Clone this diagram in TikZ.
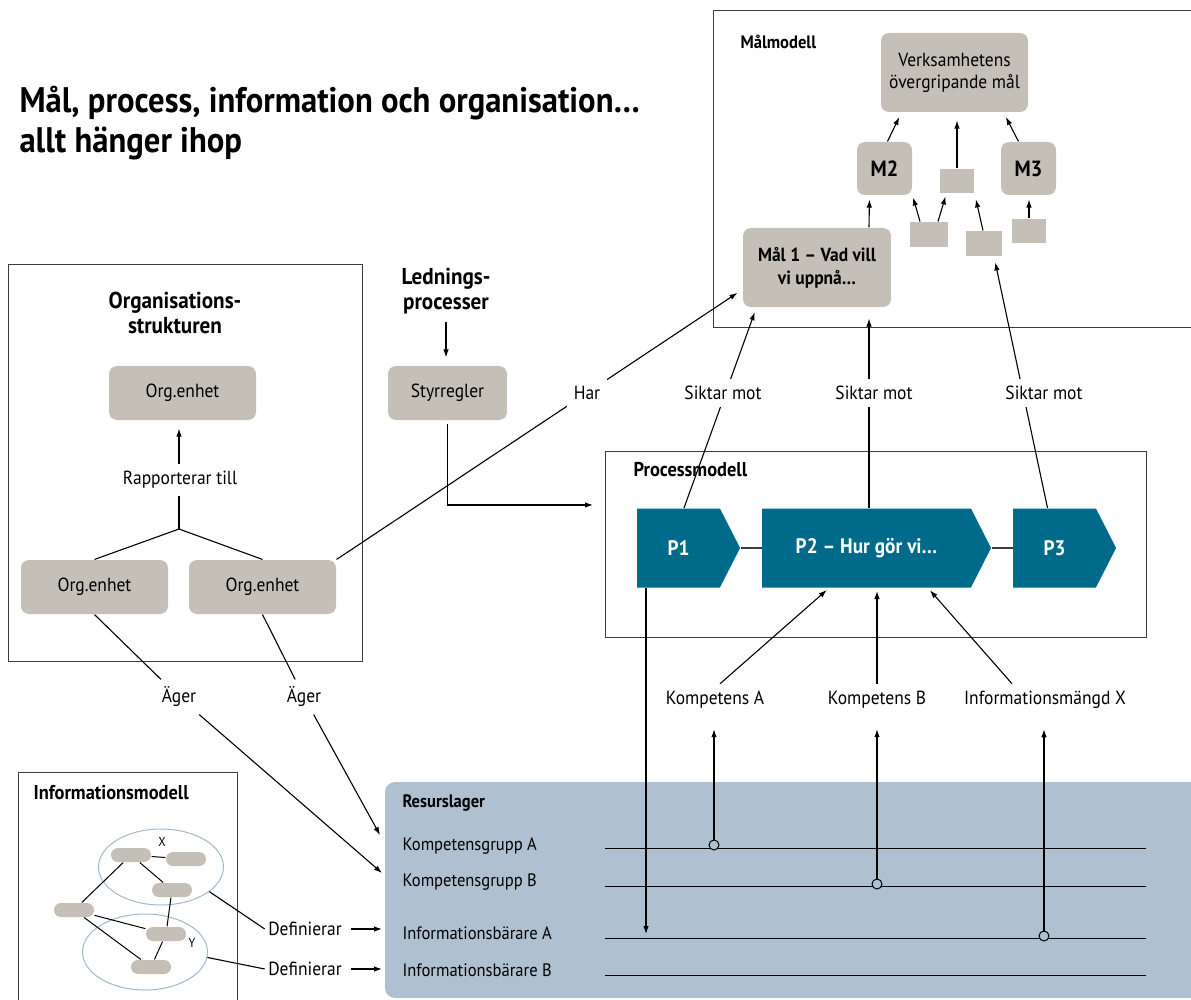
\documentclass[tikz,border=0pt]{standalone}
\usepackage{fontspec}
\setmainfont[FakeStretch=0.92]{PT Sans}
\usetikzlibrary{arrows.meta,shapes.geometric,shapes.symbols,positioning}
\definecolor{boxgray}{RGB}{196,191,183}
\definecolor{proccol}{RGB}{0,106,138}
\definecolor{resblue}{RGB}{175,192,209}
\definecolor{ellcol}{RGB}{160,185,208}
\definecolor{framecol}{RGB}{60,60,60}

\begin{document}
\begin{tikzpicture}[x=1pt, y=-1pt, line width=1.1pt, >={Latex[length=8pt,width=5.5pt]},
    graybox/.style={fill=boxgray, rounded corners=8pt, align=center, inner sep=0pt, font=\fontsize{19}{22}\selectfont},
    goal/.style={graybox, font=\bfseries\fontsize{19}{23}\selectfont},
    stub/.style={fill=boxgray, inner sep=0pt},
    procstep/.style={signal, signal to=east, signal pointer angle=126, fill=proccol, text=white,
                     inner sep=0pt, minimum height=79pt, font=\bfseries\fontsize{21}{24}\selectfont},
    lbl/.style={inner sep=7pt, font=\fontsize{19}{22}\selectfont},
    overlbl/.style={lbl, fill=white},
    modelbox/.style={draw=framecol, line width=1pt},
    boxtitle/.style={anchor=west, inner sep=0pt, font=\bfseries\fontsize{20}{23}\selectfont},
    heading/.style={align=center, inner sep=0pt, font=\bfseries\fontsize{23}{25}\selectfont},
    pill/.style={fill=boxgray, rounded corners=7pt, minimum width=40pt, minimum height=14pt, inner sep=0pt},
    infoset/.style={ellipse, draw=ellcol, line width=1pt, minimum width=125pt, minimum height=76pt},
    joint/.style={circle, draw, line width=1pt, fill=resblue, minimum size=10pt, inner sep=0pt},
    resrow/.style={anchor=west, inner sep=0pt, font=\fontsize{18}{21}\selectfont}]

    \useasboundingbox (0,0) rectangle (1191,1000);

    % frames
    \draw[modelbox] (713,11) rectangle (1200,327);
    \draw[modelbox] (8,265) rectangle (362,661);
    \draw[modelbox] (605,451) rectangle (1146,637);
    \draw[modelbox] (18,772) rectangle (237,1010);
    \fill[resblue, rounded corners=10pt] (385,782) rectangle (1215,998);

    \node[anchor=west, align=left, inner sep=0pt, font=\bfseries\fontsize{35.5}{40}\selectfont] (head) at (19,123)
        {Mål, process, information och organisation…\\allt hänger ihop};

    \node[boxtitle, font=\bfseries\fontsize{18}{21}\selectfont] (goaltitle) at (740,42) {Målmodell};
    \node[boxtitle] (proctitle) at (633,470) {Processmodell};
    \node[boxtitle] (infotitle) at (33,793) {Informationsmodell};
    \node[boxtitle, font=\bfseries\fontsize{18}{21}\selectfont] (restitle) at (402,803) {Resurslager};
    \node[heading] (orgtitle) at (175,313) {Organisations-\\strukturen};
    \node[heading] (led) at (446,291) {Lednings-\\processer};

    % Målmodell
    \node[graybox, minimum width=147pt, minimum height=79pt] (vision) at (954.5,72.5) {Verksamhetens\\övergripande mål};
    \node[goal, font=\bfseries\fontsize{22}{24}\selectfont, minimum width=55pt, minimum height=53pt] (m2) at (884.5,168.5) {M2};
    \node[goal, font=\bfseries\fontsize{22}{24}\selectfont, minimum width=55pt, minimum height=53pt] (m3) at (1028.5,168.5) {M3};
    \node[stub, minimum width=34pt, minimum height=24pt] (g1) at (957,181) {};
    \node[stub, minimum width=38pt, minimum height=25pt] (g2) at (929,234.5) {};
    \node[stub, minimum width=36pt, minimum height=25pt] (g3) at (984,243.5) {};
    \node[stub, minimum width=34pt, minimum height=24pt] (g4) at (1029,231) {};
    \node[goal, minimum width=148pt, minimum height=79pt] (mal1) at (817,267.5) {Mål 1 – Vad vill\\vi uppnå…};

    \draw[->, shorten >=5pt] ([xshift=3pt]m2.north) -- ([xshift=21pt]vision.south west);
    \draw[->, shorten >=8pt] (g1.north) -- (g1.north |- vision.south);
    \draw[->, shorten >=5pt] ([xshift=-10pt]m3.north) -- ([xshift=-25pt]vision.south east);
    \draw[->, shorten >=4pt] ([xshift=52pt]mal1.north) -- ([xshift=-15pt]m2.south);
    \draw[->, shorten >=2pt] ([xshift=-9pt]g2.north) -- (m2.south east);
    \draw[->, shorten >=3pt] ([xshift=9pt]g2.north) -- ([xshift=7pt]g1.south west);
    \draw[->, shorten >=6pt] ([xshift=-1pt]g3.north) -- (g1.south east);
    \draw[->, shorten >=4pt] (g4.north) -- (g4.north |- m3.south);

    % Processmodell
    \node[procstep, minimum width=103pt] (p1) at (678.5,548) {P1};
    \node[procstep, minimum width=229pt] (p2) at (866.5,548) {P2 – Hur gör vi…};
    \node[procstep, minimum width=103pt] (p3) at (1054.5,548) {P3};
    \draw[framecol] (p1.east) -- (p2.west);
    \draw[framecol] (p2.east) -- (p3.west);

    % Organisationsstrukturen
    \node[graybox, minimum width=147pt, minimum height=54pt] (orgtop) at (182.5,393) {Org.enhet};
    \node[graybox, minimum width=147pt, minimum height=54pt] (orgL) at (94.5,587) {Org.enhet};
    \node[graybox, minimum width=147pt, minimum height=54pt] (orgR) at (262.5,587) {Org.enhet};
    \coordinate (fork) at (179,529);
    \draw (orgL.north) -- (fork) -- (orgR.north);
    \draw[->, shorten >=8pt] (fork) -- (fork |- orgtop.south);
    \node[overlbl] (reports) at (180,480) {Rapporterar till};

    % Ledningsprocesser
    \node[graybox, minimum width=119pt, minimum height=54pt] (rules) at (447.5,393) {Styrregler};
    \draw[->, shorten <=7pt, shorten >=8pt] (led.south) -- (led.south |- rules.north);
    \coordinate (ctrl) at (593,505);
    \draw[->] ([yshift=-3pt]rules.south) |- (ctrl);

    % Har / Siktar mot
    \draw[->, shorten >=6pt] (orgR.north east) -- ([yshift=-22pt]mal1.west);
    \node[overlbl] (has) at (587,393) {Har};
    \draw[->, shorten >=5pt] ([xshift=5.5pt]p1.north) -- ([xshift=14pt]mal1.south west);
    \node[overlbl] (aim1) at (723,393) {Siktar mot};
    \draw[->, shorten >=11pt] ([xshift=2.5pt]p2.north) -- ([xshift=52pt]mal1.south);
    \node[overlbl] (aim2) at (874,393) {Siktar mot};
    \draw[->, shorten >=6pt] ([xshift=-7pt]p3.north) -- ([xshift=10pt]g3.south);
    \node[overlbl] (aim3) at (1044,393) {Siktar mot};

    % Kompetenser
    \node[lbl] (compA) at (715,700) {Kompetens A};
    \node[lbl] (compB) at (877,700) {Kompetens B};
    \node[lbl] (infoX) at (1045,700) {Informationsmängd X};
    \draw[->, shorten >=3pt] ([xshift=5pt]compA.north) -- ([xshift=-37.5pt]p2.south);
    \draw[->, shorten >=3pt] (compB.north) -- (compB.north |- p2.south);
    \draw[->, shorten >=3pt] ([xshift=-33pt]infoX.north) -- ([xshift=61.5pt]p2.south);

    % Resurslager
    \foreach \y in {848,886,938,975}
        \draw[line width=1pt] (605,\y) -- (1146,\y);
    \node[resrow] (rowA) at (402,846) {Kompetensgrupp A};
    \node[resrow] (rowB) at (402,882) {Kompetensgrupp B};
    \node[resrow] (rowC) at (402,933) {Informationsbärare A};
    \node[resrow] (rowD) at (402,970) {Informationsbärare B};
    \node[joint] (jA) at (714,845) {};
    \node[joint] (jB) at (877,884) {};
    \node[joint] (jX) at (1044,936) {};
    \draw[->, shorten >=13pt] (jA.north) -- (jA.north |- compA.south);
    \draw[->, shorten >=13pt] (jB.north) -- (jB.north |- compB.south);
    \draw[->, shorten >=13pt] (jX.north) -- (jX.north |- infoX.south);
    \coordinate (tipA) at (646,934);
    \draw[->] (tipA |- p1.south) -- (tipA);

    % Äger
    \node[lbl] (ownL) at (179,697) {Äger};
    \node[lbl] (ownR) at (304,697) {Äger};
    \coordinate (inA) at (380,835);
    \coordinate (inB) at (382,873);
    \draw (orgL.south) -- (ownL);
    \draw[->] (ownL) -- (inB);
    \draw (orgR.south) -- (ownR);
    \draw[->] (ownR) -- (inA);

    % Informationsmodell
    \node[infoset] (setX) at (161,867) {};
    \node[infoset] (setY) at (145,952) {};
    \node[inner sep=0pt, font=\fontsize{13}{15}\selectfont] (nameX) at (162,842) {X};
    \node[inner sep=0pt, font=\fontsize{13}{15}\selectfont] (nameY) at (192,943) {Y};
    \node[pill] (e1) at (131,855) {};
    \node[pill] (e2) at (186,859) {};
    \node[pill] (e3) at (172,890) {};
    \node[pill] (e4) at (74,910) {};
    \node[pill] (e5) at (166,934) {};
    \node[pill] (e6) at (151,967) {};
    \draw[line width=1pt] (e1) -- (e2) (e1) -- (e3) (e1) -- (e4) (e4) -- (e5)
        (e4) -- (e6) (e3) -- (e5) (e5) -- (e6);

    \node[lbl, inner sep=3pt] (def1) at (305,929) {Definierar};
    \node[lbl, inner sep=3pt] (def2) at (305,969) {Definierar};
    \draw (setX.-27) -- (def1.west);
    \draw (setY.-5) -- (def2.west);
    \coordinate (inC) at (382,930);
    \coordinate (inD) at (382,970);
    \draw[->, shorten <=6pt] (def1.east) -- (def1.east -| inC);
    \draw[->, shorten <=6pt] (def2.east) -- (def2.east -| inD);
\end{tikzpicture}
\end{document}
